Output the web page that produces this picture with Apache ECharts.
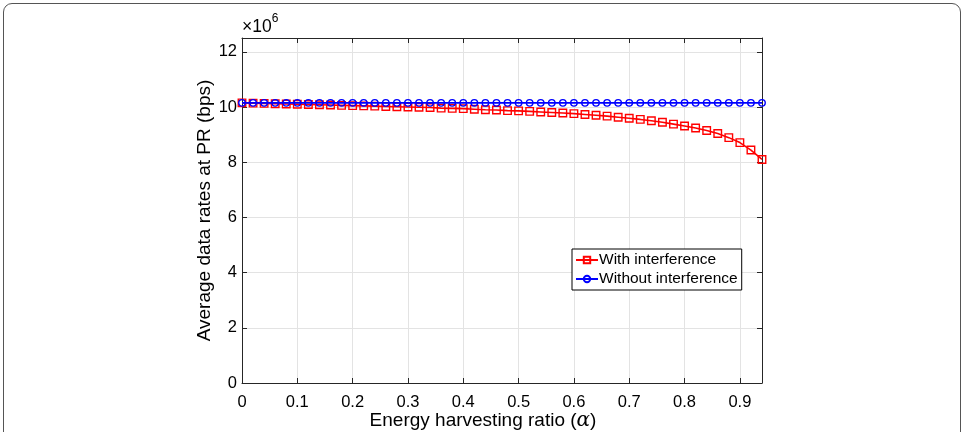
<!DOCTYPE html>
<html>
<head>
<meta charset="utf-8">
<script src="https://cdn.jsdelivr.net/npm/echarts@6/dist/echarts.min.js"></script>
<style>
html,body{margin:0;padding:0;background:#fff;}
#frame{position:absolute;left:3px;top:3px;width:958px;height:440px;border:1px solid #555;border-radius:9px;box-sizing:border-box;}
#chart{position:absolute;left:0;top:0;width:966px;height:432px;}
</style>
</head>
<body>
<div id="frame"></div>
<div id="chart"></div>
<script>
// alpha values (energy harvesting ratio)
const alphaValues = [0,0.02,0.04,0.06,0.08,0.10,0.12,0.14,0.16,0.18,0.20,0.22,0.24,0.26,0.28,0.30,0.32,0.34,0.36,0.38,0.40,0.42,0.44,0.46,0.48,0.50,0.52,0.54,0.56,0.58,0.60,0.62,0.64,0.66,0.68,0.70,0.72,0.74,0.76,0.78,0.80,0.82,0.84,0.86,0.88,0.90,0.92,0.94];
// average data rate (x10^6 bps)
const withInterference = [10.15,10.14,10.13,10.12,10.11,10.10,10.09,10.08,10.07,10.06,10.05,10.04,10.03,10.02,10.01,10.00,9.99,9.98,9.96,9.95,9.94,9.92,9.90,9.89,9.87,9.86,9.84,9.82,9.80,9.78,9.76,9.73,9.70,9.67,9.63,9.59,9.55,9.50,9.45,9.38,9.31,9.24,9.15,9.04,8.89,8.71,8.44,8.10];
const withoutInterference = [10.15,10.15,10.15,10.15,10.15,10.15,10.15,10.15,10.15,10.15,10.15,10.15,10.15,10.15,10.15,10.15,10.15,10.15,10.15,10.15,10.15,10.15,10.15,10.15,10.15,10.15,10.15,10.15,10.15,10.15,10.15,10.15,10.15,10.15,10.15,10.15,10.15,10.15,10.15,10.15,10.15,10.15,10.15,10.15,10.15,10.15,10.15,10.15];
const seriesNames = ['With interference','Without interference'];
const xTitle = 'Energy harvesting ratio';
const yTitle = 'Average data rates at PR (bps)';

const FONT = '"Liberation Sans", Arial, Helvetica, sans-serif';
const chart = echarts.init(document.getElementById('chart'), null, {renderer:'canvas'});
const pair = (xs, ys) => xs.map((x,i)=>[x, ys[i]]);
const axisCol = '#262626';

chart.setOption({
  animation:false,
  backgroundColor:'transparent',
  textStyle:{fontFamily:FONT},
  grid:{left:242, right:204, top:38, bottom:49, containLabel:false},
  graphic:[
    {type:'text', left:242, top:13, style:{
      text:'{a|×10}{b|6}',
      rich:{a:{fontSize:17.5, fontFamily:FONT, fill:'#000', verticalAlign:'bottom'}, b:{fontSize:12, fontFamily:FONT, fill:'#000', verticalAlign:'top', padding:[0,0,11,0]}}
    }},
    {type:'text', left:'center', top:411, style:{
      text:'{t|'+xTitle+' (}{g|α}{t|)}',
      rich:{t:{fontSize:19, fontFamily:FONT, fill:'#000'}, g:{fontSize:20, fontFamily:'"DejaVu Serif", "Liberation Serif", serif', fontStyle:'italic', fill:'#000'}}
    }}
  ],
  legend:{
    orient:'vertical', left:572, top:249,
    data:seriesNames,
    backgroundColor:'#fff', borderColor:'#000', borderWidth:1, borderRadius:0,
    padding:[3,4,3,3], itemGap:3, itemWidth:22, itemHeight:8,
    textStyle:{fontSize:15.5, color:'#000', fontFamily:FONT, padding:[0,0,0,-4]}
  },
  xAxis:[
    {type:'value', min:0, max:0.94, interval:0.1, position:'bottom',
     axisLine:{show:true, onZero:false, lineStyle:{color:axisCol, width:1}},
     axisTick:{show:true, inside:true, length:5, lineStyle:{color:axisCol}},
     axisLabel:{show:true, showMaxLabel:false, color:'#000', fontSize:16.5, fontFamily:FONT, margin:11,
       formatter:v=>(Math.round(v*10)/10).toString()},
     splitLine:{show:true, lineStyle:{color:'#e3e3e3', width:1}}},
    {type:'value', min:0, max:0.94, interval:0.1, position:'top',
     axisLine:{show:true, onZero:false, lineStyle:{color:axisCol, width:1}},
     axisTick:{show:true, inside:true, length:5, lineStyle:{color:axisCol}},
     axisLabel:{show:false}, splitLine:{show:false}}
  ],
  yAxis:[
    {type:'value', min:0, max:12.5, interval:2, position:'left',
     name:yTitle, nameLocation:'middle', nameGap:28, nameRotate:90, nameMoveOverlap:false,
     nameTextStyle:{fontSize:19, color:'#000', fontFamily:FONT},
     axisLine:{show:true, onZero:false, lineStyle:{color:axisCol, width:1}},
     axisTick:{show:true, inside:true, length:5, lineStyle:{color:axisCol}},
     axisLabel:{show:true, showMaxLabel:false, color:'#000', fontSize:16.5, fontFamily:FONT, margin:5},
     splitLine:{show:true, lineStyle:{color:'#e3e3e3', width:1}}},
    {type:'value', min:0, max:12.5, interval:2, position:'right',
     axisLine:{show:true, onZero:false, lineStyle:{color:axisCol, width:1}},
     axisTick:{show:true, inside:true, length:5, lineStyle:{color:axisCol}},
     axisLabel:{show:false}, splitLine:{show:false}}
  ],
  series:[
    {name:seriesNames[0], type:'line', data:pair(alphaValues, withInterference),
     symbol:'rect', symbolSize:7.5, showAllSymbol:true,
     lineStyle:{color:'#ff0000', width:1.6},
     itemStyle:{color:'rgba(255,255,255,0)', borderColor:'#ff0000', borderWidth:1.4},
     emphasis:{disabled:true}, z:3},
    {name:seriesNames[1], type:'line', data:pair(alphaValues, withoutInterference),
     symbol:'circle', symbolSize:6.5, showAllSymbol:true,
     lineStyle:{color:'#0000ff', width:1.6},
     itemStyle:{color:'rgba(255,255,255,0)', borderColor:'#0000ff', borderWidth:1.4},
     emphasis:{disabled:true}, z:4}
  ]
});
</script>
</body>
</html>
